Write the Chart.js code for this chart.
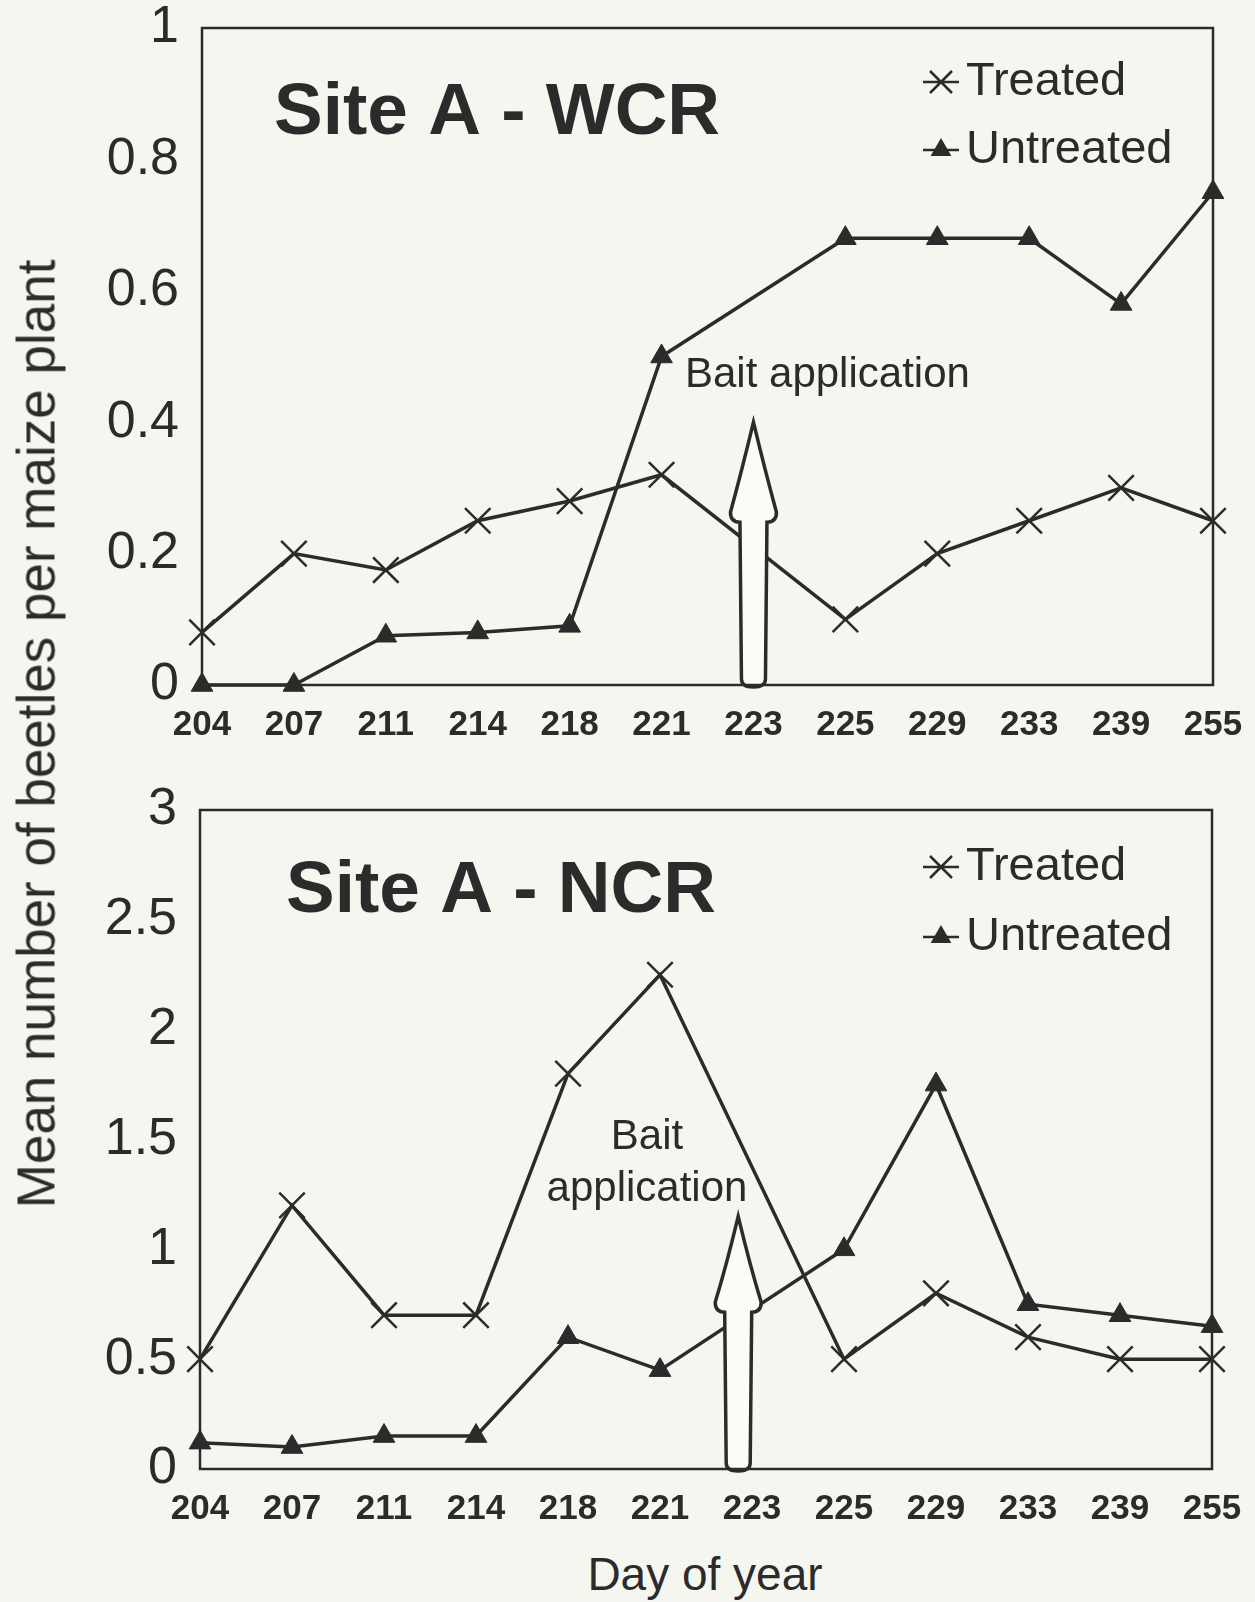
<!DOCTYPE html>
<html lang="en">
<head>
<meta charset="UTF-8">
<title>Site A - WCR / NCR</title>
<script src="https://cdn.jsdelivr.net/npm/chart.js"></script>
<style>
  body { margin: 0; background: #f6f6f0; font-family: "Liberation Sans", Arial, sans-serif; color: #2b2b2b; }
  #wrap { position: relative; width: 1255px; height: 1602px; overflow: hidden; }
  canvas { position: absolute; left: 0; }
  #yTitle { position: absolute; left: 36px; top: 734px; transform: translate(-50%, -50%) rotate(-90deg); font-size: 53px; white-space: nowrap; }
  #xTitle { position: absolute; left: 705px; top: 1574px; transform: translate(-50%, -50%); font-size: 46px; white-space: nowrap; }
</style>
</head>
<body>
<div id="wrap">
  <canvas id="wcrChart" width="1255" height="760" style="top:0"></canvas>
  <canvas id="ncrChart" width="1255" height="760" style="top:780px"></canvas>
  <div id="yTitle">Mean number of beetles per maize plant</div>
  <div id="xTitle">Day of year</div>
</div>
<script>
// day of year (223 = bait application, no sample)
const days = ['204', '207', '211', '214', '218', '221', '223', '225', '229', '233', '239', '255'];

// Site A - WCR
const wcrTreated   = [0.08, 0.2, 0.175, 0.25, 0.28, 0.32, null, 0.1, 0.2, 0.25, 0.3, 0.25];
const wcrUntreated = [0, 0, 0.075, 0.08, 0.09, 0.5, null, 0.68, 0.68, 0.68, 0.58, 0.75];

// Site A - NCR
const ncrTreated   = [0.5, 1.2, 0.7, 0.7, 1.8, 2.25, null, 0.5, 0.8, 0.6, 0.5, 0.5];
const ncrUntreated = [0.12, 0.1, 0.15, 0.15, 0.6, 0.45, null, 1.0, 1.75, 0.75, 0.7, 0.65];

const INK = '#2b2b2b';
const FONT = '"Liberation Sans", Arial, sans-serif';

// frame, titles, legend, bait arrow
const decoPlugin = {
  id: 'deco',
  afterDatasetsDraw(chart, args, o) {
    const ctx = chart.ctx, x = chart.scales.x, y = chart.scales.y;
    // arrow
    const cx = x.getPixelForValue(o.arrowAt);
    const yTip = y.getPixelForValue(o.arrowTip);
    const yBase = y.getPixelForValue(o.arrowBase);
    const yBot = y.getPixelForValue(0) + 2;
    const hh = 23, sh = 12, r = 8;
    ctx.save();
    ctx.beginPath();
    ctx.moveTo(cx - sh, yBot - r);
    ctx.lineTo(cx - sh - 1.5, yBase + 8);
    ctx.quadraticCurveTo(cx - hh, yBase + 8, cx - hh, yBase - 2);
    ctx.quadraticCurveTo(cx - 12, yTip + 50, cx, yTip);
    ctx.quadraticCurveTo(cx + 12, yTip + 50, cx + hh, yBase - 2);
    ctx.quadraticCurveTo(cx + hh, yBase + 8, cx + sh + 1.5, yBase + 8);
    ctx.lineTo(cx + sh, yBot - r);
    ctx.quadraticCurveTo(cx + sh, yBot, cx, yBot);
    ctx.quadraticCurveTo(cx - sh, yBot, cx - sh, yBot - r);
    ctx.closePath();
    ctx.fillStyle = '#fbfbf7';
    ctx.fill();
    ctx.lineWidth = 3.5;
    ctx.strokeStyle = INK;
    ctx.stroke();

    // frame
    const a = chart.chartArea;
    ctx.lineWidth = 2.5;
    ctx.strokeRect(a.left, a.top, a.right - a.left, a.bottom - a.top);

    ctx.fillStyle = INK;
    ctx.textBaseline = 'middle';
    // title
    ctx.font = 'bold 73px ' + FONT;
    ctx.textAlign = 'left';
    ctx.fillText(o.title, o.titleX, o.titleY);

    // bait text
    ctx.font = '42px ' + FONT;
    ctx.textAlign = o.baitAlign;
    o.bait.forEach((t, i) => ctx.fillText(t, o.baitX, o.baitY + i * 52));

    // legend
    ctx.font = '47px ' + FONT;
    ctx.textAlign = 'left';
    const lx = 941;
    chart.data.datasets.forEach((ds, i) => {
      const ly = o.legendY[i];
      ctx.lineWidth = 2.5;
      ctx.beginPath();
      ctx.moveTo(lx - 18, ly);
      ctx.lineTo(lx + 18, ly);
      if (ds.pointStyle === 'crossRot') {
        const d = 11;
        ctx.moveTo(lx - d, ly - d); ctx.lineTo(lx + d, ly + d);
        ctx.moveTo(lx - d, ly + d); ctx.lineTo(lx + d, ly - d);
        ctx.stroke();
      } else {
        ctx.stroke();
        const rr = 12;
        ctx.beginPath();
        ctx.moveTo(lx, ly - rr);
        ctx.lineTo(lx + rr * 0.866, ly + rr * 0.5);
        ctx.lineTo(lx - rr * 0.866, ly + rr * 0.5);
        ctx.closePath();
        ctx.fill();
      }
      ctx.fillText(ds.label, lx + 25, ly);
    });
    ctx.restore();
  }
};

function makeChart(id, treated, untreated, yMax, step, yWidth, xHeight, pad, deco) {
  return new Chart(document.getElementById(id), {
    type: 'line',
    data: {
      labels: days,
      datasets: [
        { label: 'Treated', data: treated, borderColor: INK, borderWidth: 3.5, spanGaps: true, tension: 0, clip: false,
          pointStyle: 'crossRot', pointRadius: 18, pointBorderWidth: 2.5, pointBorderColor: INK, pointBackgroundColor: INK },
        { label: 'Untreated', data: untreated, borderColor: INK, borderWidth: 3.5, spanGaps: true, tension: 0, clip: false,
          pointStyle: 'triangle', pointRadius: 12.5, pointBorderWidth: 1, pointBorderColor: INK, pointBackgroundColor: INK }
      ]
    },
    options: {
      responsive: false,
      animation: false,
      layout: { padding: pad },
      plugins: { legend: { display: false }, tooltip: { enabled: false }, deco: deco },
      scales: {
        x: {
          offset: false,
          grid: { display: false, drawTicks: false, tickLength: 0 },
          border: { display: false },
          ticks: { color: INK, font: { family: FONT, size: 35, weight: 'bold' }, padding: 19, maxRotation: 0, autoSkip: false },
          afterFit(s) { s.height = xHeight; s.paddingLeft = 0; s.paddingRight = 0; }
        },
        y: {
          min: 0, max: yMax,
          grid: { display: false, drawTicks: false, tickLength: 0 },
          border: { display: false },
          ticks: { stepSize: step, color: INK, font: { family: FONT, size: 52 }, padding: 23,
                   callback: v => String(Number(v.toFixed(2))) },
          afterFit(s) { s.width = yWidth; s.paddingTop = 0; s.paddingBottom = 0; }
        }
      }
    },
    plugins: [decoPlugin]
  });
}

makeChart('wcrChart', wcrTreated, wcrUntreated, 1, 0.2, 202, 75,
  { left: 0, right: 42, top: 28, bottom: 0 },
  { title: 'Site A - WCR', titleX: 274, titleY: 114, legendY: [82, 150],
    bait: ['Bait application'], baitX: 685, baitY: 375, baitAlign: 'left',
    arrowAt: 6, arrowTip: 0.4, arrowBase: 0.26 });

makeChart('ncrChart', ncrTreated, ncrUntreated, 3, 0.5, 200, 71,
  { left: 0, right: 43, top: 30, bottom: 0 },
  { title: 'Site A - NCR', titleX: 286, titleY: 112, legendY: [87, 157],
    bait: ['Bait', 'application'], baitX: 647, baitY: 357, baitAlign: 'center',
    arrowAt: 5.85, arrowTip: 1.15, arrowBase: 0.75 });
</script>
</body>
</html>
